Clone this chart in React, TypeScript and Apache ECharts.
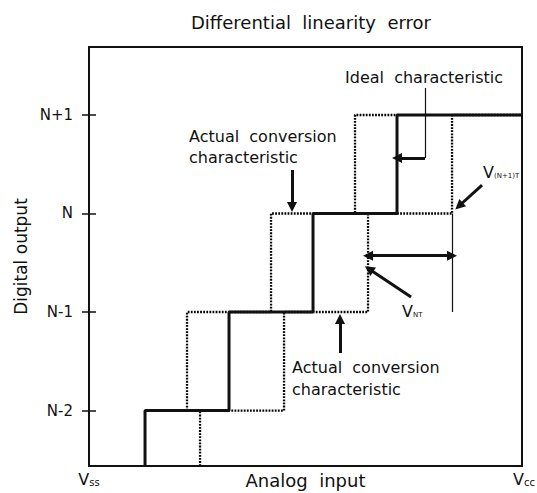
import React, { useEffect, useRef } from 'react';
import * as echarts from 'echarts';

// ---- data ----
const codeLabels = ['N-2', 'N-1', 'N', 'N+1'];
const codeLevels = [0, 1, 2, 3];
// analog input (in LSB) where each output code starts
const idealTransitions = [1, 2, 3, 4]; // codes N-2 .. N+1
const earlyTransitions = [1.5, 2.5, 3.5]; // codes N-1 .. N+1 (actual, shifted left)
const earlyLevels = [1, 2, 3];
const lateTransitions = [1.655, 2.655, 3.655, 4.655]; // codes N-2 .. N+1 (actual, shifted right)
const X_MIN = 0.333;
const X_MAX = 5.488;
const Y_MIN = -0.563;
const Y_MAX = 3.69;
const xEndLabels = ['{v|V}{s|ss}', '{w|V}{s|cc}'];

// annotation arrows (data coordinates)
const idealLeader = [[4.333, 3.274], [4.333, 2.563]];
const idealArrow = [[4.333, 2.563], [4.0, 2.563]];
const actualTopArrow = [[2.75, 2.442], [2.75, 2.066]];
const actualBottomArrow = [[3.321, 0.584], [3.321, 0.929]];
const vntArrow = [[4.167, 1.152], [3.667, 1.437]];
const vn1tArrow = [[5.012, 2.289], [4.738, 2.076]];
const dimensionLine = [[lateTransitions[3], 2], [lateTransitions[3], 1]];
const dimensionArrow = [[lateTransitions[2], 1.572], [lateTransitions[3], 1.572]];

function stairs(trans: number[], levels: number[], startY: number, endX: number) {
  const pts: number[][] = [];
  let prev = startY;
  trans.forEach((t, i) => {
    pts.push([t, prev]);
    pts.push([t, levels[i]]);
    prev = levels[i];
  });
  pts.push([endX, prev]);
  return pts;
}

const FONT = 'DejaVu Sans';

export default function App() {
  const ref = useRef<HTMLDivElement>(null);
  useEffect(() => {
    if (!ref.current) return;
    const chart = echarts.init(ref.current, null, { renderer: 'svg' });
    const black = '#111';
    const dotted = { color: '#000', width: 2.3, type: [1.8, 1.3] as any };
    const thickArrow = (coords: number[][], both = false) => ({
      type: 'lines',
      coordinateSystem: 'cartesian2d',
      polyline: false,
      symbol: both ? ['triangle', 'triangle'] : ['none', 'triangle'],
      symbolSize: 10,
      lineStyle: { color: black, width: 3, opacity: 1, curveness: 0 },
      data: [{ coords }],
      z: 5,
      silent: true,
    });
    const thinLine = (coords: number[][]) => ({
      type: 'lines',
      coordinateSystem: 'cartesian2d',
      polyline: false,
      symbol: ['none', 'none'],
      lineStyle: { color: black, width: 1.2, opacity: 1, curveness: 0 },
      data: [{ coords }],
      z: 5,
      silent: true,
    });
    const txt = (text: string, x: number, y: number, size = 16) => ({
      type: 'text',
      x,
      y,
      style: {
        text,
        fontSize: size,
        fontFamily: FONT,
        fill: black,
        align: 'left',
        verticalAlign: 'middle',
      },
    });
    const subTxt = (main: string, sub: string, x: number, y: number) => ({
      type: 'text',
      x,
      y,
      style: {
        text: `{v|${main}}{s|${sub}}`,
        fontFamily: FONT,
        fill: black,
        align: 'left',
        verticalAlign: 'middle',
        rich: {
          v: { fontSize: 16, fontFamily: FONT, fill: black, verticalAlign: 'bottom' },
          s: { fontSize: 7, fontFamily: FONT, fill: black, verticalAlign: 'bottom', padding: [0, 0, 1, 0] },
        },
      },
    });

    chart.setOption({
      animation: false,
      title: {
        text: 'Differential  linearity  error',
        left: 306,
        textAlign: 'center',
        top: 8,
        textStyle: { fontFamily: FONT, fontSize: 18, fontWeight: 'normal', color: black },
      },
      grid: {
        left: 89,
        right: 15,
        top: 47,
        bottom: 27,
        outerBoundsMode: 'none',
        containLabel: false,
        show: true,
        borderColor: black,
        borderWidth: 2,
        backgroundColor: 'transparent',
      },
      xAxis: {
        type: 'value',
        min: X_MIN,
        max: X_MAX,
        name: 'Analog  input',
        nameLocation: 'middle',
        nameGap: 5,
        nameMoveOverlap: false,
        nameTextStyle: { fontFamily: FONT, fontSize: 18, color: black },
        axisLine: { show: false },
        axisTick: { show: false },
        splitLine: { show: false },
        axisLabel: {
          customValues: [X_MIN, X_MAX],
          margin: 5,
          formatter: (v: number) => (Math.abs(v - X_MIN) < 1e-6 ? xEndLabels[0] : xEndLabels[1]),
          rich: {
            v: { fontSize: 16, fontFamily: FONT, color: black, verticalAlign: 'bottom' },
            w: { fontSize: 16, fontFamily: FONT, color: black, verticalAlign: 'bottom', padding: [0, 0, 0, 4] },
            s: { fontSize: 10, fontFamily: FONT, color: black, verticalAlign: 'bottom' },
          },
        },
      },
      yAxis: [
        {
          type: 'value',
          min: Y_MIN,
          max: Y_MAX,
          name: 'Digital output',
          nameLocation: 'middle',
          nameGap: 60,
          nameRotate: 90,
          nameMoveOverlap: false,
          nameTextStyle: { fontFamily: FONT, fontSize: 17, color: black },
          axisLine: { show: false },
          splitLine: { show: false },
          axisTick: {
            show: true,
            length: 7,
            customValues: codeLevels,
            lineStyle: { color: black, width: 1.5 },
          },
          axisLabel: {
            customValues: codeLevels,
            margin: 16,
            fontFamily: FONT,
            fontSize: 15,
            color: black,
            formatter: (v: number) => codeLabels[codeLevels.indexOf(Math.round(v))] ?? '',
          },
        },
        {
          type: 'value',
          min: Y_MIN,
          max: Y_MAX,
          position: 'left',
          axisLine: { show: false },
          splitLine: { show: false },
          axisLabel: { show: false },
          axisTick: {
            show: true,
            inside: true,
            length: 7,
            customValues: codeLevels,
            lineStyle: { color: black, width: 1.5 },
          },
        },
      ],
      series: [
        {
          type: 'line',
          data: stairs(earlyTransitions, earlyLevels, 0, idealTransitions[3]),
          showSymbol: false,
          lineStyle: dotted,
          z: 2,
          silent: true,
        },
        {
          type: 'line',
          data: stairs(lateTransitions, codeLevels, Y_MIN, X_MAX),
          showSymbol: false,
          lineStyle: dotted,
          z: 2,
          silent: true,
        },
        {
          type: 'line',
          data: stairs(idealTransitions, codeLevels, Y_MIN, X_MAX),
          showSymbol: false,
          lineStyle: { color: black, width: 3 },
          z: 3,
          silent: true,
        },
        thinLine(idealLeader),
        thinLine(dimensionLine),
        thickArrow(idealArrow),
        thickArrow(actualTopArrow),
        thickArrow(actualBottomArrow),
        thickArrow(vntArrow),
        thickArrow(vn1tArrow),
        thickArrow(dimensionArrow, true),
      ],
      graphic: [
        txt('Ideal  characteristic', 345, 77),
        txt('Actual  conversion', 189, 136),
        txt('characteristic', 189, 157),
        txt('Actual  conversion', 292, 367),
        txt('characteristic', 292, 389),
        subTxt('V', 'NT', 402, 311),
        subTxt('V', '(N+1)T', 483, 172),
      ],
    });
    return () => chart.dispose();
  }, []);
  return (
    <div
      ref={ref}
      style={{ position: 'fixed', left: 0, top: 0, width: 537, height: 493, background: '#fff' }}
    />
  );
}
